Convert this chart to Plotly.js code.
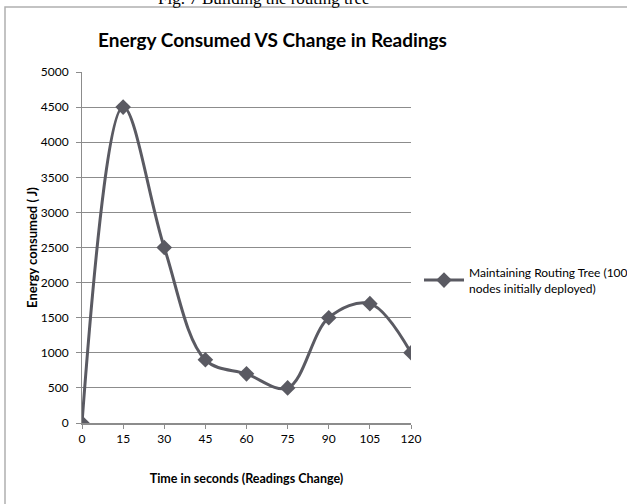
<!DOCTYPE html>
<html>
<head>
<meta charset="utf-8">
<script src="https://cdn.plot.ly/plotly-3.0.1.min.js"></script>
<style>html,body{margin:0;padding:0;background:#fff;}#chart{width:627px;height:504px;}</style>
</head>
<body>
<div id="chart"></div>
<script>
var timeSeconds = [0, 15, 30, 45, 60, 75, 90, 105, 120];
var energyConsumed = [0, 4500, 2500, 900, 700, 500, 1500, 1700, 1000];
var seriesName = "Maintaining Routing Tree (100<br>nodes initially deployed)";
var chartTitle = "Energy Consumed VS Change in Readings";
var xTitle = "Time in seconds (Readings Change)";
var yTitle = "Energy consumed ( J)";
var figCaption = "Fig. 7 Building the routing tree";

var W = 627, H = 504;
var L = 82, R = 411, T = 72, B = 423;
function px(x){ return (x - L) / (R - L); }
function py(y){ return (B - y) / (B - T); }

var font = "Lato, 'Open Sans', sans-serif";
var gridColor = "#8c8c8c";
var lineColor = "#5a5a62";

var trace = {
  x: timeSeconds,
  y: energyConsumed,
  type: "scatter",
  mode: "lines+markers",
  name: seriesName,
  line: {color: lineColor, width: 3, shape: "spline", smoothing: 1},
  marker: {symbol: "diamond", size: 12, color: lineColor}
};

var layout = {
  width: W, height: H,
  margin: {l: L, r: W - R, t: T, b: H - B, pad: 0, autoexpand: false},
  paper_bgcolor: "#fff",
  plot_bgcolor: "#fff",
  showlegend: true,
  legend: {
    x: px(419), y: py(258), xanchor: "left", yanchor: "top",
    font: {family: font, size: 12, color: "#000"},
    bgcolor: "rgba(0,0,0,0)", itemwidth: 40, tracegroupgap: 0
  },
  xaxis: {
    range: [0, 120], tickmode: "array", tickvals: timeSeconds, ticktext: timeSeconds.map(String),
    showgrid: false, zeroline: false, showline: true, linecolor: gridColor, linewidth: 1.5,
    ticks: "outside", ticklen: 4, tickcolor: gridColor, tickwidth: 1,
    ticklabelstandoff: 0,
    tickfont: {family: font, size: 12, color: "#000"},
    title: {text: xTitle, font: {family: font, size: 12.5, color: "#000", weight: "bold"}, standoff: 29},
    automargin: false, fixedrange: true
  },
  yaxis: {
    range: [0, 5000], dtick: 500, tick0: 0,
    showgrid: true, gridcolor: gridColor, gridwidth: 1,
    zeroline: false, showline: true, linecolor: gridColor, linewidth: 1,
    ticks: "outside", ticklen: 5, tickcolor: gridColor,
    ticklabelstandoff: 5,
    tickfont: {family: font, size: 12, color: "#000"},
    title: {text: yTitle, font: {family: font, size: 13, color: "#000", weight: "bold"}, standoff: 0},
    automargin: false, fixedrange: true
  },
  shapes: [
    {type: "rect", xref: "paper", yref: "paper", x0: px(5), x1: px(640), y0: py(520), y1: py(7),
     line: {color: "#b0b0b0", width: 1.5}, fillcolor: "rgba(0,0,0,0)", layer: "below"}
  ],
  annotations: [
    {xref: "paper", yref: "paper", x: px(272), y: py(40), xanchor: "center", yanchor: "middle",
     text: "<b>" + chartTitle + "</b>", showarrow: false,
     font: {family: font, size: 19, color: "#000"}},
    {xref: "paper", yref: "paper", x: px(264), y: py(10), xanchor: "center", yanchor: "bottom",
     text: figCaption, showarrow: false,
     font: {family: "'Liberation Serif', 'Times New Roman', serif", size: 17, color: "#000"}}
  ]
};

Plotly.newPlot("chart", [trace], layout, {displayModeBar: false, staticPlot: true});
</script>
</body>
</html>
